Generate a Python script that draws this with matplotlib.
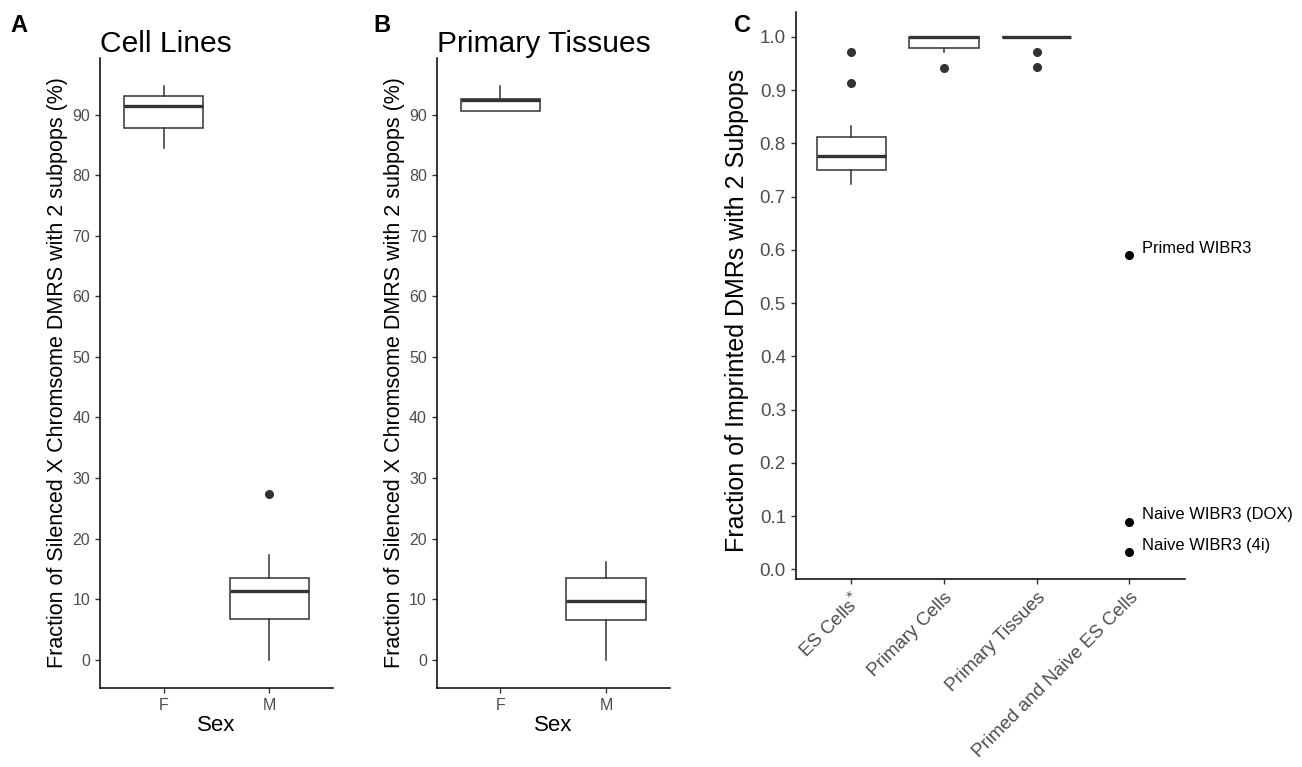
# boxplots of subpopulation fractions (X chromosome DMRs and imprinted DMRs)

import numpy as np
import matplotlib.pyplot as plt

plt.rcParams['font.family'] = ['Liberation Sans', 'DejaVu Sans']

# panel A / B: sex groups
sex = ["F", "M"]

cell_q1 = [87.9, 6.7]
cell_med = [91.4, 11.3]
cell_q3 = [93.1, 13.4]
cell_lo = [84.6, 0.0]
cell_hi = [94.7, 17.2]
cell_fliers = [[], [27.3]]

tis_q1 = [90.7, 6.55]
tis_med = [92.4, 9.6]
tis_q3 = [92.65, 13.4]
tis_lo = [90.7, 0.0]
tis_hi = [94.7, 16.1]
tis_fliers = [[], []]

# panel C: imprinted DMRs
groups = ["ES Cells$^{*}$", "Primary Cells", "Primary Tissues", "Primed and Naive ES Cells"]
imp_q1 = [0.750, 0.978, 1.0]
imp_med = [0.777, 1.0, 1.0]
imp_q3 = [0.812, 1.0, 1.0]
imp_lo = [0.723, 0.972, 1.0]
imp_hi = [0.832, 1.0, 1.0]
imp_fliers = [[0.972, 0.914], [0.942], [0.972, 0.944]]

es_names = ["Primed WIBR3", "Naive WIBR3 (DOX)", "Naive WIBR3 (4i)"]
es_vals = [0.59, 0.09, 0.032]

grey = "#333333"


def make_stats(q1, med, q3, lo, hi, fliers):
    return [dict(q1=a, med=b, q3=c, whislo=d, whishi=e, fliers=f)
            for a, b, c, d, e, f in zip(q1, med, q3, lo, hi, fliers)]


def draw_box(ax, stats, positions):
    ax.bxp(stats, positions=positions, widths=0.75, showcaps=False, patch_artist=True,
           boxprops=dict(facecolor="white", edgecolor=grey, linewidth=1.1),
           medianprops=dict(color=grey, linewidth=2.4, solid_capstyle="butt"),
           whiskerprops=dict(color=grey, linewidth=1.1),
           flierprops=dict(marker="o", markerfacecolor=grey, markeredgecolor=grey, markersize=5.5))


def style(ax, ticksize):
    for s in ["top", "right"]:
        ax.spines[s].set_visible(False)
    for s in ["left", "bottom"]:
        ax.spines[s].set_linewidth(1.1)
        ax.spines[s].set_color("black")
    ax.tick_params(direction="out", length=3.5, width=1.0, color=grey,
                   labelcolor="#4d4d4d", labelsize=ticksize)


fig = plt.figure(figsize=(13.02, 7.67), dpi=100)

axA = fig.add_axes([0.0768, 0.103, 0.179, 0.8214])
axB = fig.add_axes([0.3354, 0.103, 0.179, 0.8214])
axC = fig.add_axes([0.6111, 0.2447, 0.299, 0.740])

ylab = "Fraction of Silenced X Chromsome DMRS with 2 subpops (%)"
for ax, title, st in [(axA, "Cell Lines", make_stats(cell_q1, cell_med, cell_q3, cell_lo, cell_hi, cell_fliers)),
                      (axB, "Primary Tissues", make_stats(tis_q1, tis_med, tis_q3, tis_lo, tis_hi, tis_fliers))]:
    draw_box(ax, st, [1, 2])
    ax.set_xlim(0.4, 2.6)
    ax.set_ylim(-4.7, 99.4)
    ax.set_yticks(np.arange(0, 91, 10))
    ax.set_xticks([1, 2])
    ax.set_xticklabels(sex)
    ax.set_xlabel("Sex", fontsize=16, labelpad=2)
    ax.set_ylabel(ylab, fontsize=15.5, labelpad=3)
    ax.set_title(title, loc="left", fontsize=21.6, pad=2)
    style(ax, 11.5)

stC = make_stats(imp_q1, imp_med, imp_q3, imp_lo, imp_hi, imp_fliers)
draw_box(axC, stC, [1, 2, 3])
axC.plot([4] * len(es_vals), es_vals, "o", color="black", markersize=5.5)
for name, v in zip(es_names, es_vals):
    axC.annotate(name, (4, v), xytext=(9, 5), textcoords="offset points",
                 va="center", ha="left", fontsize=11.9, color="black")
axC.set_xlim(0.4, 4.6)
axC.set_ylim(-0.0185, 1.047)
axC.set_yticks(np.arange(0, 1.01, 0.1))
axC.set_yticklabels([f"{t:.1f}" for t in np.arange(0, 1.01, 0.1)])
axC.set_xticks([1, 2, 3, 4])
axC.set_xticklabels(groups, rotation=45, ha="right", rotation_mode="anchor")
axC.set_ylabel("Fraction of Imprinted DMRs with 2 Subpops", fontsize=18)
axC.yaxis.set_label_coords(-0.12, 0.473)
style(axC, 13.5)

fig.text(0.008, 0.958, "A", fontsize=17, fontweight="bold")
fig.text(0.287, 0.958, "B", fontsize=17, fontweight="bold")
fig.text(0.564, 0.958, "C", fontsize=17, fontweight="bold")

plt.savefig("out.png", dpi=100)
